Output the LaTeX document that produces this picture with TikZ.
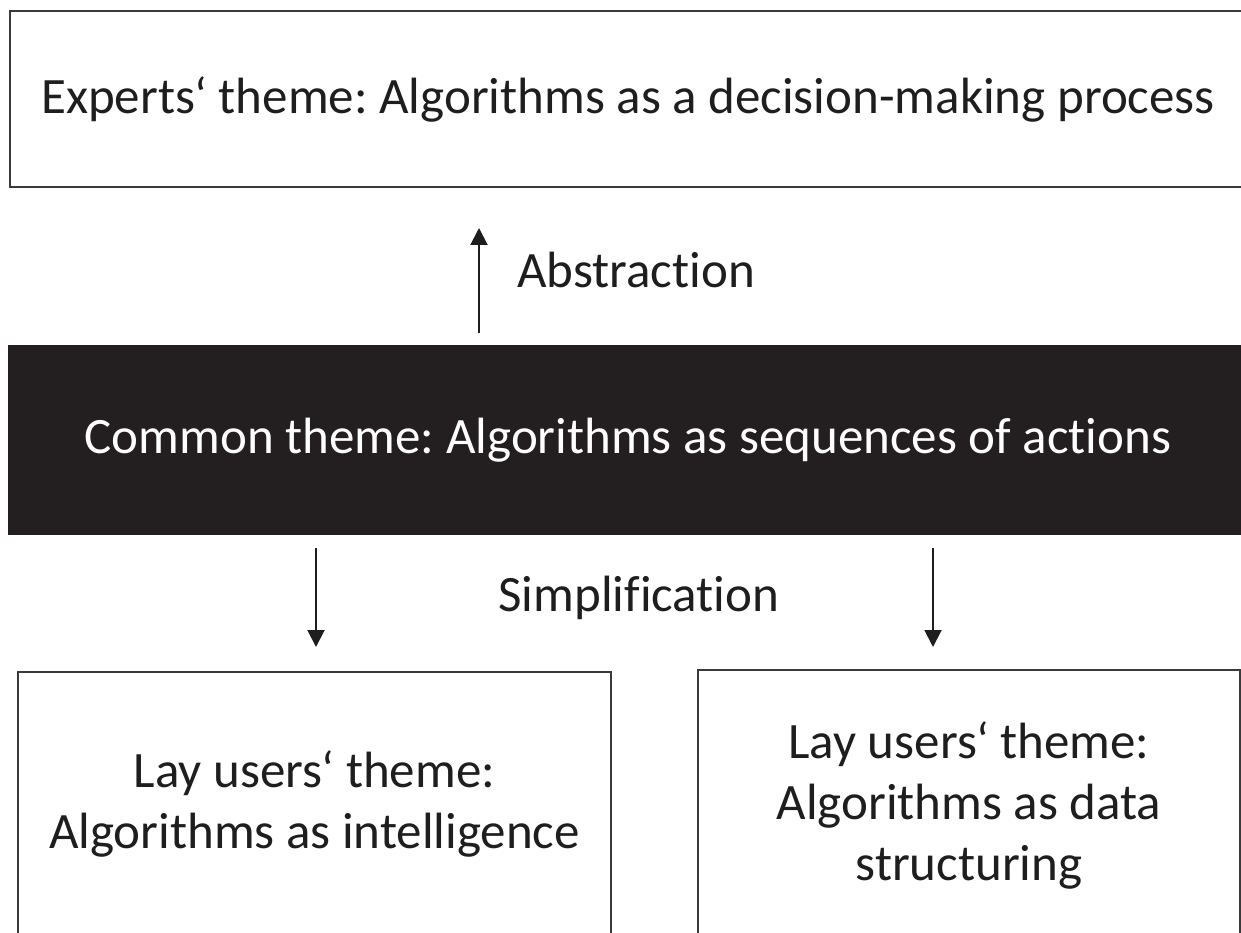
\documentclass[tikz,border=0pt]{standalone}
\usepackage{fontspec}
\setmainfont{Carlito}[Ligatures={NoCommon}]
\usetikzlibrary{arrows.meta,calc}
\definecolor{bordc}{HTML}{3A3A3A}
\definecolor{txtc}{HTML}{1E1E1E}
\definecolor{darkfill}{HTML}{231F20}
\frenchspacing
\begin{document}
\begin{tikzpicture}[x=1pt,y=-1pt,
  bigfont/.style={font=\fontsize{51pt}{61pt}\selectfont},
  box/.style={draw=bordc,line width=2pt,fill=white,text=txtc,align=center,inner sep=0pt,bigfont},
  darkbox/.style={draw=darkfill,line width=2pt,fill=darkfill,text=white,align=center,inner sep=0pt,bigfont},
  lbl/.style={text=txtc,inner sep=0pt,bigfont},
  arr/.style={draw=txtc,line width=2pt,-{Triangle[width=17pt,length=17pt]}}]
\useasboundingbox (0,0) rectangle (1241,933);
\fill[white] (0,0) rectangle (1241,933);
\clip (0,0) rectangle (1241,933);
\node[box,minimum width=1236pt,minimum height=176pt] (experts) at (628,99)
  {Experts‘ theme: Algorithms as a decision-making process};
\node[darkbox,minimum width=1238pt,minimum height=188pt] (common) at (628,440)
  {Common theme: Algorithms as sequences of actions};
\node[box,minimum width=593pt,minimum height=264pt] (lay1) at (314.5,804)
  {Lay users‘ theme:\\Algorithms as intelligence};
\node[box,minimum width=542pt,minimum height=270pt] (lay2) at (969,805)
  {Lay users‘ theme:\\Algorithms as data\\structuring};
\coordinate (ax) at (479,0);
\coordinate (bx) at (316,0);
\coordinate (cx) at (933,0);
\draw[arr,shorten <=12pt,shorten >=40pt] (common.north -| ax) -- (experts.south -| ax);
\draw[arr,shorten <=13pt,shorten >=24pt] (common.south -| bx) -- (lay1.north -| bx);
\draw[arr,shorten <=13pt,shorten >=22pt] (common.south -| cx) -- (lay2.north -| cx);
\node[lbl,anchor=west] (abs) at (517,270) {Abstraction};
\node[lbl] (simp) at (639,598) {Simplification};
\end{tikzpicture}
\end{document}
